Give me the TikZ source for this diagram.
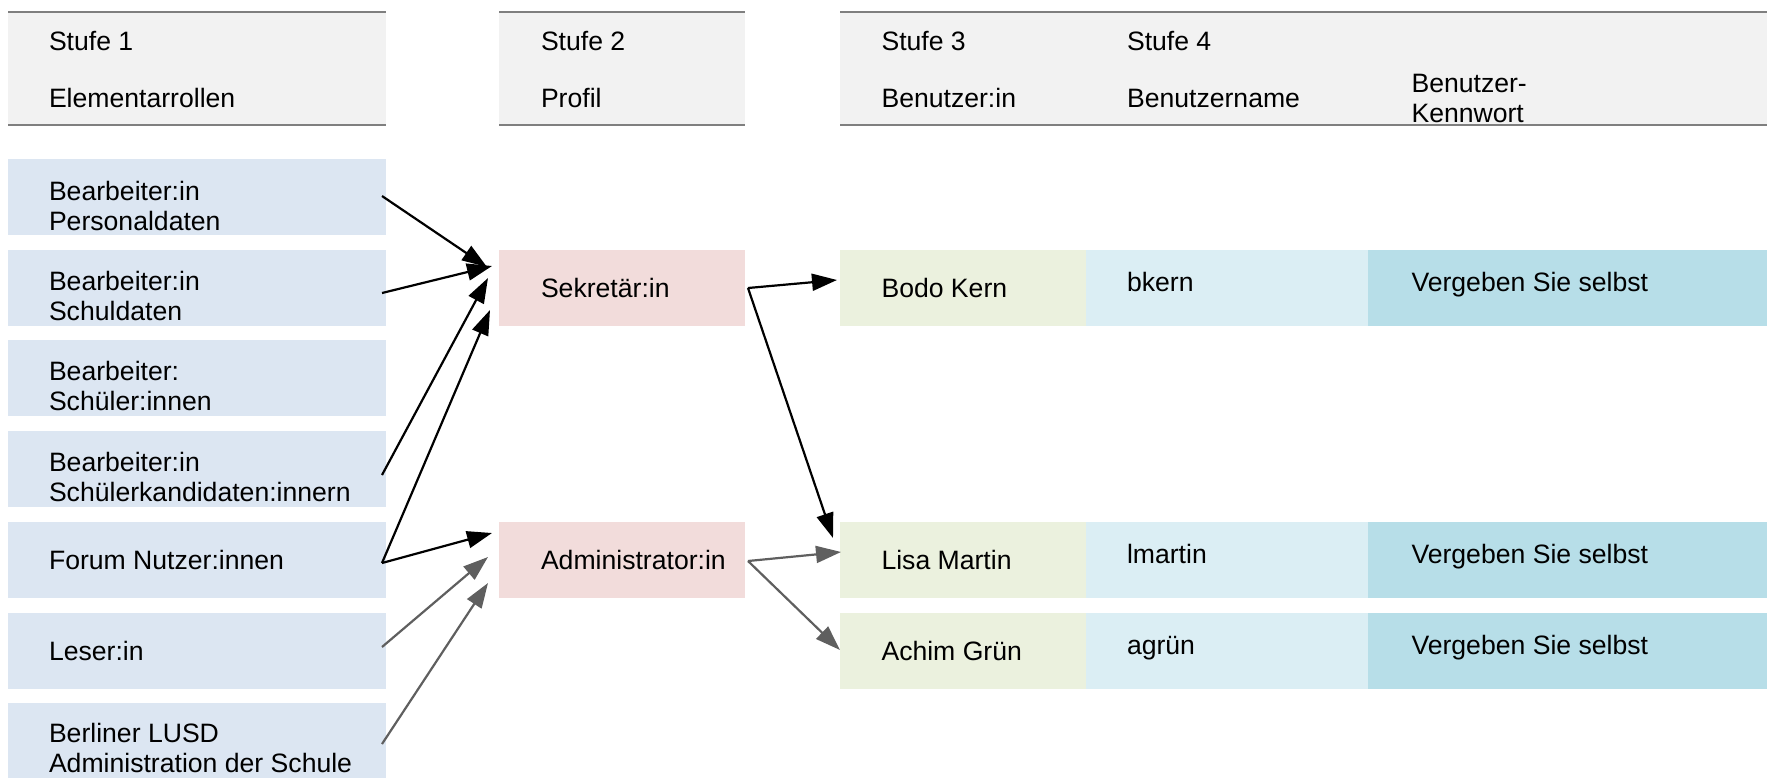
\documentclass[tikz,border=0pt]{standalone}
\usepackage{fontspec}
\setmainfont{Liberation Sans}
\usetikzlibrary{arrows.meta}
\definecolor{hdrfill}{HTML}{F2F2F2}
\definecolor{hdrline}{HTML}{7F7F7F}
\definecolor{rolefill}{HTML}{DCE6F2}
\definecolor{proffill}{HTML}{F2DCDB}
\definecolor{userfill}{HTML}{EBF1DE}
\definecolor{namefill}{HTML}{DBEEF4}
\definecolor{pwfill}{HTML}{B7DEE8}
\definecolor{arrgray}{HTML}{5F5F5F}
\tikzset{
  hdr/.style={anchor=north west, inner sep=0, outer sep=0, fill=hdrfill, minimum height=56.5pt},
  hdrrule/.style={draw=hdrline, line width=1.1pt},
  cell/.style={anchor=north west, inner sep=0, outer sep=0, minimum height=38pt},
  rolebox/.style={cell, fill=rolefill, minimum width=189pt},
  profbox/.style={cell, fill=proffill, minimum width=123pt},
  userbox/.style={cell, fill=userfill, minimum width=123pt},
  namebox/.style={cell, fill=namefill, minimum width=141pt},
  pwbox/.style={cell, fill=pwfill, minimum width=199.5pt},
  txt/.style={anchor=base west, inner sep=0, outer sep=0, align=left,
    font=\fontsize{13.3pt}{15pt}\selectfont},
  blackarr/.style={draw=black, line width=1.1pt, -{Triangle[length=12.5pt,width=8.5pt]}},
  grayarr/.style={draw=arrgray, line width=1.1pt, -{Triangle[length=12.5pt,width=8.5pt]}},
}
\begin{document}
\begin{tikzpicture}[x=0.5pt,y=-0.5pt]
\useasboundingbox (0,0) rectangle (1767,777);
\clip (0,0) rectangle (1767,777);

% headers
\node[hdr, minimum width=189pt] (h1) at (8,12) {};
\node[hdr, minimum width=123pt] (h2) at (499,12) {};
\node[hdr, minimum width=463.5pt] (h3) at (840,12) {};
\foreach \h in {h1,h2,h3}{
  \draw[hdrrule] (\h.north west) -- (\h.north east);
  \draw[hdrrule] (\h.south west) -- (\h.south east);
}
\node[txt] (h1a) at ([shift={(41,38)}]h1.north west) {Stufe 1};
\node[txt] (h1b) at ([shift={(41,95)}]h1.north west) {Elementarrollen};
\node[txt] (h2a) at ([shift={(42,38)}]h2.north west) {Stufe 2};
\node[txt] (h2b) at ([shift={(42,95)}]h2.north west) {Profil};
\node[txt] (h3a) at ([shift={(41.5,38)}]h3.north west) {Stufe 3};
\node[txt] (h3b) at ([shift={(41.5,95)}]h3.north west) {Benutzer:in};
\node[txt] (h3c) at ([shift={(287,38)}]h3.north west) {Stufe 4};
\node[txt] (h3d) at ([shift={(287,95)}]h3.north west) {Benutzername};
\node[txt] (h3e) at ([shift={(571.5,110)}]h3.north west) {Benutzer-\\Kennwort};

% left column: element roles
\node[rolebox] (b1) at (8,159) {};
\node[rolebox] (b2) at (8,250) {};
\node[rolebox] (b3) at (8,340) {};
\node[rolebox] (b4) at (8,431) {};
\node[rolebox] (b5) at (8,522) {};
\node[rolebox] (b6) at (8,613) {};
\node[rolebox] (b7) at (8,703) {};
\node[txt] (t1) at ([shift={(41,71)}]b1.north west) {Bearbeiter:in\\Personaldaten};
\node[txt] (t2) at ([shift={(41,70)}]b2.north west) {Bearbeiter:in\\Schuldaten};
\node[txt] (t3) at ([shift={(41,70)}]b3.north west) {Bearbeiter:\\Schüler:innen};
\node[txt] (t4) at ([shift={(41,70.5)}]b4.north west) {Bearbeiter:in\\Schülerkandidaten:innern};
\node[txt] (t5) at ([shift={(41,47)}]b5.north west) {Forum Nutzer:innen};
\node[txt] (t6) at ([shift={(41,47)}]b6.north west) {Leser:in};
\node[txt] (t7) at ([shift={(41,69)}]b7.north west) {Berliner LUSD\\Administration der Schule};

% profiles
\node[profbox] (sek) at (499,250) {};
\node[profbox] (adm) at (499,522) {};
\node[txt] (sekt) at ([shift={(42,47)}]sek.north west) {Sekretär:in};
\node[txt] (admt) at ([shift={(42,47)}]adm.north west) {Administrator:in};

% users
\node[userbox] (u1) at (840,250) {};
\node[namebox] (n1) at (u1.north east) {};
\node[pwbox] (p1) at (n1.north east) {};
\node[userbox] (u2) at (840,522) {};
\node[namebox] (n2) at (u2.north east) {};
\node[pwbox] (p2) at (n2.north east) {};
\node[userbox] (u3) at (840,613) {};
\node[namebox] (n3) at (u3.north east) {};
\node[pwbox] (p3) at (n3.north east) {};

\node[txt] (u1t) at ([shift={(41.5,47)}]u1.north west) {Bodo Kern};
\node[txt] (n1t) at ([shift={(41,41)}]n1.north west) {bkern};
\node[txt] (p1t) at ([shift={(43.5,41)}]p1.north west) {Vergeben Sie selbst};
\node[txt] (u2t) at ([shift={(41.5,47)}]u2.north west) {Lisa Martin};
\node[txt] (n2t) at ([shift={(41,41)}]n2.north west) {lmartin};
\node[txt] (p2t) at ([shift={(43.5,41)}]p2.north west) {Vergeben Sie selbst};
\node[txt] (u3t) at ([shift={(41.5,47)}]u3.north west) {Achim Grün};
\node[txt] (n3t) at ([shift={(41,41)}]n3.north west) {agrün};
\node[txt] (p3t) at ([shift={(43.5,41)}]p3.north west) {Vergeben Sie selbst};

% arrows: roles -> profiles
\draw[blackarr] ([shift={(-4,37)}]b1.north east) -- ([shift={(-12,17)}]sek.north west);
\draw[blackarr] ([shift={(-4,43)}]b2.north east) -- ([shift={(-7,16)}]sek.north west);
\draw[blackarr] ([shift={(-4,44)}]b4.north east) -- ([shift={(-11,28)}]sek.north west);
\draw[blackarr] ([shift={(-4,41)}]b5.north east) -- ([shift={(-9,60)}]sek.north west);
\draw[blackarr] ([shift={(-4,41)}]b5.north east) -- ([shift={(-7,11)}]adm.north west);
\draw[grayarr] ([shift={(-4,34)}]b6.north east) -- ([shift={(-11,35)}]adm.north west);
\draw[grayarr] ([shift={(-4,41)}]b7.north east) -- ([shift={(-11,61)}]adm.north west);

% arrows: profiles -> users
\draw[blackarr] ([shift={(3,38)}]sek.north east) -- ([shift={(-3,30)}]u1.north west);
\draw[blackarr] ([shift={(3,38)}]sek.north east) -- ([shift={(-7,16)}]u2.north west);
\draw[grayarr] ([shift={(3,39)}]adm.north east) -- ([shift={(1,30)}]u2.north west);
\draw[grayarr] ([shift={(3,39)}]adm.north east) -- ([shift={(0,37)}]u3.north west);
\end{tikzpicture}
\end{document}
